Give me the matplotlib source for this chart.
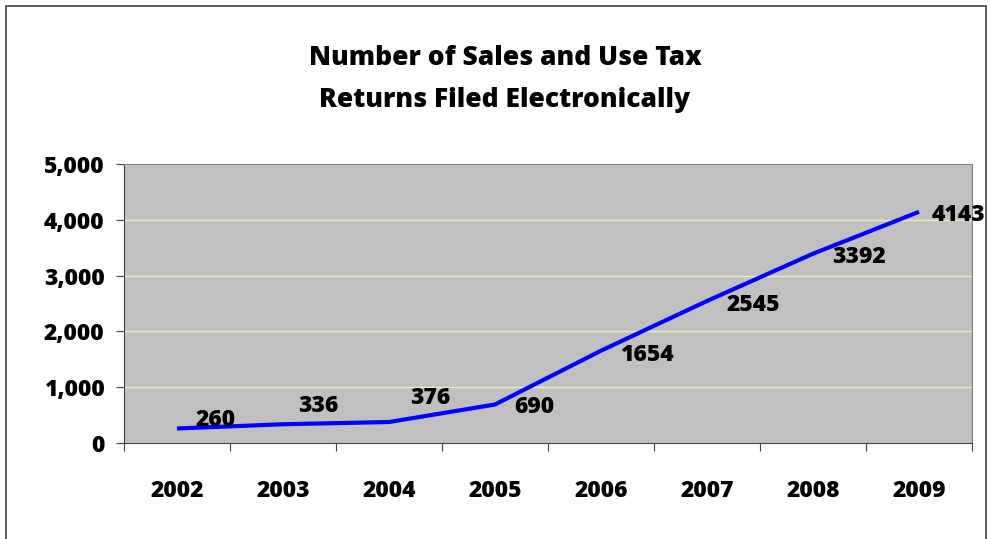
import matplotlib.pyplot as plt
from matplotlib.patches import Rectangle
from matplotlib.ticker import FuncFormatter

plt.rcParams['font.family'] = ['Open Sans', 'DejaVu Sans']
WEIGHT = 'heavy'

# Returns filed electronically per year
years = ['2002', '2003', '2004', '2005', '2006', '2007', '2008', '2009']
returns = [260, 336, 376, 690, 1654, 2545, 3392, 4143]
# label offsets from each point (pixels)
label_dx = [39, 35, 41, 39, 46, 46, 46, 40]
label_dy = [8, 18, 24, -3, -4, -4, -3, -3]

W, H = 991, 539
fig = plt.figure(figsize=(W / 100, H / 100), dpi=100)
ax = fig.add_axes([124 / W, 1 - 443 / H, (972 - 124) / W, (443 - 164) / H])

x = list(range(len(years)))
ax.plot(x, returns, color='#0000FF', lw=3, solid_capstyle='butt', zorder=3)
for xi, v, dx, dy in zip(x, returns, label_dx, label_dy):
    ax.annotate(str(v), (xi, v), xytext=(dx, dy), textcoords='offset pixels',
                ha='center', va='center', fontsize=16.5, fontweight=WEIGHT)

ax.set_facecolor('#C0C0C0')
ax.set_xlim(-0.5, len(years) - 0.5)
ax.set_ylim(0, 5000)
ax.set_yticks(range(0, 5001, 1000))
ax.yaxis.set_major_formatter(FuncFormatter(lambda v, p: f'{int(v):,}'))
ax.grid(axis='y', color='#EDEBB8', lw=1)
ax.set_axisbelow(True)

# categories sit between tick marks
ax.set_xticks([i - 0.5 for i in range(len(years) + 1)])
ax.set_xticklabels([])
ax.set_xticks(x, minor=True)
ax.set_xticklabels(years, minor=True)
ax.tick_params(axis='x', which='minor', length=0, pad=26, labelsize=16.5)
ax.tick_params(axis='x', which='major', length=6, color='#404040', direction='out')
ax.tick_params(axis='y', length=6, color='#404040', labelsize=16.5, pad=8)
for lab in ax.get_xticklabels(minor=True) + ax.get_yticklabels():
    lab.set_fontweight(WEIGHT)

ax.spines['left'].set_color('#404040')
ax.spines['bottom'].set_color('#404040')
ax.spines['top'].set_color('#808080')
ax.spines['right'].set_color('#808080')

fig.text(505 / W, 1 - 58 / H, 'Number of Sales and Use Tax', ha='center', va='center',
         fontsize=19, fontweight=WEIGHT)
fig.text(505 / W, 1 - 100 / H, 'Returns Filed Electronically', ha='center', va='center',
         fontsize=19, fontweight=WEIGHT)

# chart border
fig.add_artist(Rectangle((6 / W, -0.05), (986 - 6) / W, 1.05 - 6 / H,
                         transform=fig.transFigure, fill=False, ec='#404040', lw=1.2))

fig.savefig('out.png', dpi=100)
